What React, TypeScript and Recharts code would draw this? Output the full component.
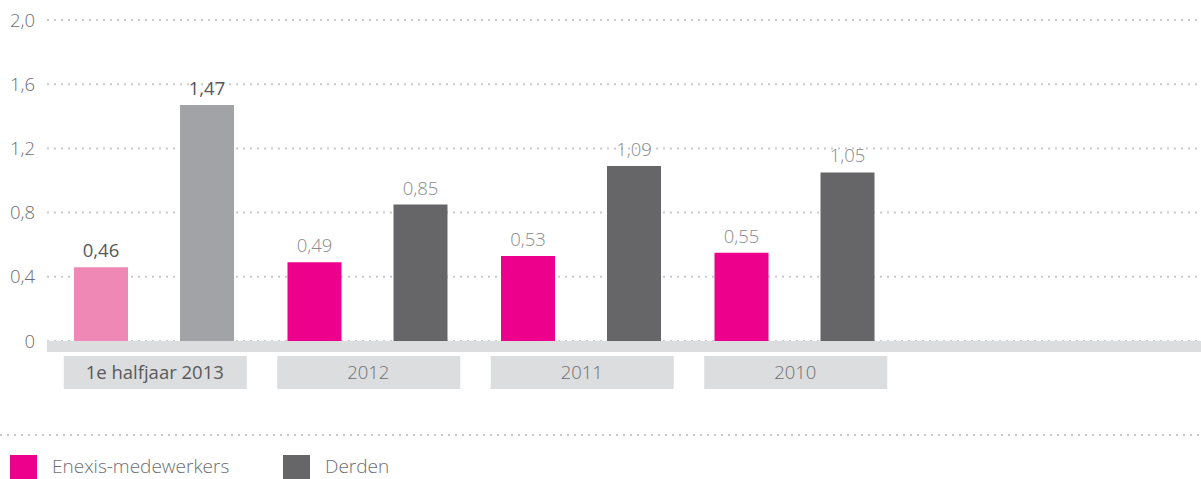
import { Bar, BarChart, CartesianGrid, Cell, LabelList, XAxis, YAxis } from "recharts";

const categories = ["1e halfjaar 2013", "2012", "2011", "2010"];
const enexis = [0.46, 0.49, 0.53, 0.55];
const derden = [1.47, 0.85, 1.09, 1.05];
const yTicks = [0, 0.4, 0.8, 1.2, 1.6, 2.0];

const data = categories.map((name, i) => ({
  name,
  enexis: enexis[i],
  derden: derden[i],
}));

const FONT = "'Open Sans', sans-serif";
const PINK = "#ec008c";
const PINK_LIGHT = "#f088b6";
const GREY = "#666668";
const GREY_LIGHT = "#a2a3a7";

function fmt(v: number) {
  return v.toFixed(2).replace(".", ",");
}

function ValueLabel(props: any) {
  const { x, y, width, value, index } = props;
  const first = index === 0;
  return (
    <text
      x={x + width / 2}
      y={y - 10}
      textAnchor="middle"
      fontFamily={FONT}
      fontSize={18.5}
      fontWeight={first ? 500 : 300}
      fill={first ? "#58595b" : "#8a8b8d"}
    >
      {fmt(value)}
    </text>
  );
}

function CategoryTick(props: any) {
  const { x, y, payload, index } = props;
  const first = index === 0;
  return (
    <g>
      <rect x={x - 90} y={y + 15} width={183} height={33} fill="#dcdddf" />
      <text
        x={x + 1}
        y={y + 38}
        textAnchor="middle"
        fontFamily={FONT}
        fontSize={18.5}
        fontWeight={first ? 500 : 300}
        fill={first ? "#58595b" : "#6d6e71"}
      >
        {payload.value}
      </text>
    </g>
  );
}

export default function App() {
  return (
    <div style={{ position: "absolute", left: 0, top: 0, width: 1201, height: 479, background: "#fff" }}>
      <BarChart
        width={1202}
        height={420}
        data={data}
        margin={{ top: 20, right: 0, bottom: 0, left: -1 }}
        barSize={54}
        barGap={52}
      >
        <CartesianGrid
          vertical={false}
          stroke="#c9cacc"
          strokeWidth={2}
          strokeDasharray="2 5"
        />
        <XAxis
          dataKey="name"
          height={79}
          tickLine={false}
          tickSize={0}
          tickMargin={0}
          padding={{ left: 0, right: 301 }}
          axisLine={{ stroke: "#dcdddf", strokeWidth: 11, transform: "translate(0,5.5)" } as any}
          tick={<CategoryTick />}
          interval={0}
        />
        <YAxis
          width={48}
          domain={[0, 2]}
          ticks={yTicks}
          axisLine={false}
          tickLine={false}
          tickSize={0}
          tickMargin={12}
          tickFormatter={(v: number) => (v === 0 ? "0" : v.toFixed(1).replace(".", ","))}
          tick={{ fontFamily: FONT, fontSize: 18.5, fontWeight: 300, fill: "#6d6e71" }}
        />
        <Bar dataKey="enexis" isAnimationActive={false}>
          {data.map((_, i) => (
            <Cell key={i} fill={i === 0 ? PINK_LIGHT : PINK} />
          ))}
          <LabelList dataKey="enexis" content={<ValueLabel />} />
        </Bar>
        <Bar dataKey="derden" isAnimationActive={false}>
          {data.map((_, i) => (
            <Cell key={i} fill={i === 0 ? GREY_LIGHT : GREY} />
          ))}
          <LabelList dataKey="derden" content={<ValueLabel />} />
        </Bar>
      </BarChart>
      <svg width={1201} height={59} style={{ display: "block" }}>
        <line x1={0} x2={1201} y1={15} y2={15} stroke="#c9cacc" strokeWidth={2} strokeDasharray="2 5" />
        <rect x={10} y={35} width={27} height={24} fill={PINK} />
        <text x={52} y={53} fontFamily={FONT} fontSize={19} fontWeight={300} fill="#6d6e71">
          Enexis-medewerkers
        </text>
        <rect x={283} y={35} width={27} height={24} fill={GREY} />
        <text x={325} y={53} fontFamily={FONT} fontSize={19} fontWeight={300} fill="#6d6e71">
          Derden
        </text>
      </svg>
    </div>
  );
}
